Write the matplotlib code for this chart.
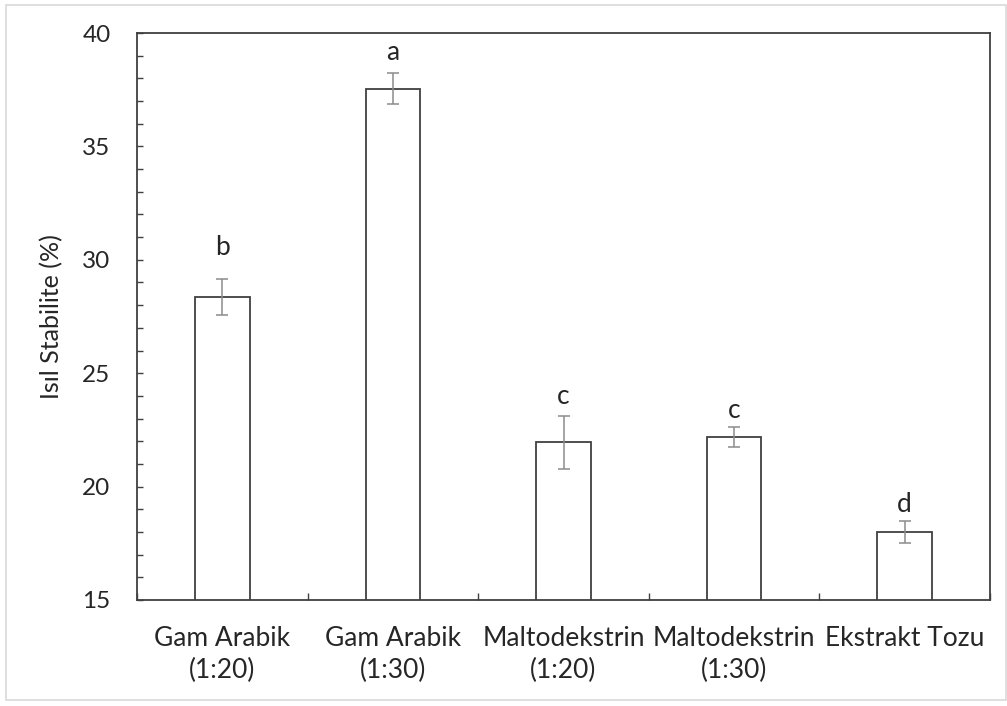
import matplotlib
matplotlib.use("Agg")
import matplotlib.pyplot as plt
from matplotlib.patches import Rectangle
from matplotlib.transforms import offset_copy
import numpy as np

categories = ["Gam Arabik\n(1:20)", "Gam Arabik\n(1:30)", "Maltodekstrin\n(1:20)",
              "Maltodekstrin\n(1:30)", "Ekstrakt Tozu"]
values = [28.35, 37.55, 21.95, 22.2, 18.0]
errors = [0.8, 0.7, 1.17, 0.44, 0.5]
letters = ["b", "a", "c", "c", "d"]
y_ticks = [15, 20, 25, 30, 35, 40]

# vertical gap (points) between top of error bar and letter baseline
letter_gap_pt = [17, 9, 8.5, 6, 6.5]

plt.rcParams['font.family'] = ['Lato', 'DejaVu Sans']
TXT = "#262626"

fig = plt.figure(figsize=(10.07, 7.06), dpi=100)
ax = fig.add_axes([137/1007, 1 - 600/706, (990-137)/1007, (600-33)/706])

x = np.arange(len(categories))
ax.bar(x, values, width=0.32, color="white", edgecolor="#404040", linewidth=1.3, zorder=2)
ax.errorbar(x, values, yerr=errors, fmt="none", ecolor="#8c8c8c", elinewidth=1.1,
            capsize=4.5, capthick=1.1, zorder=3)
for xi, v, e, l, g in zip(x, values, errors, letters, letter_gap_pt):
    tr = offset_copy(ax.transData, fig=fig, x=0, y=g, units="points")
    ax.text(xi, v + e, l, ha="center", va="baseline", fontsize=19, color=TXT, transform=tr)

ax.set_xlim(-0.5, len(categories) - 0.5)
ax.set_ylim(15, 40)
ax.set_yticks(y_ticks)
ax.set_yticklabels([str(t) for t in y_ticks], fontsize=17.5, color=TXT)
ax.set_yticks(np.arange(15, 41, 1), minor=True)
ax.tick_params(axis="y", which="both", direction="in", length=4, width=1, color="#404040", pad=19)
ax.set_xticks(np.arange(-0.5, len(categories), 1))
ax.set_xticklabels([])
ax.set_xticks(x, minor=True)
ax.set_xticklabels(categories, minor=True, fontsize=19, color=TXT, linespacing=1.34)
ax.tick_params(axis="x", which="major", direction="in", length=5, width=1, color="#404040")
ax.tick_params(axis="x", which="minor", length=0, pad=19)
ax.set_ylabel("Isıl Stabilite (%)", fontsize=18, color=TXT, labelpad=14)
for s in ax.spines.values():
    s.set_color("#404040")
    s.set_linewidth(1.3)

fig.patches.append(Rectangle((6/1007, 1 - 700/706), (1006-6)/1007, (700-5)/706,
                             transform=fig.transFigure, fill=False,
                             edgecolor="#d9d9d9", linewidth=1.2))

fig.savefig("out.png", dpi=100)
